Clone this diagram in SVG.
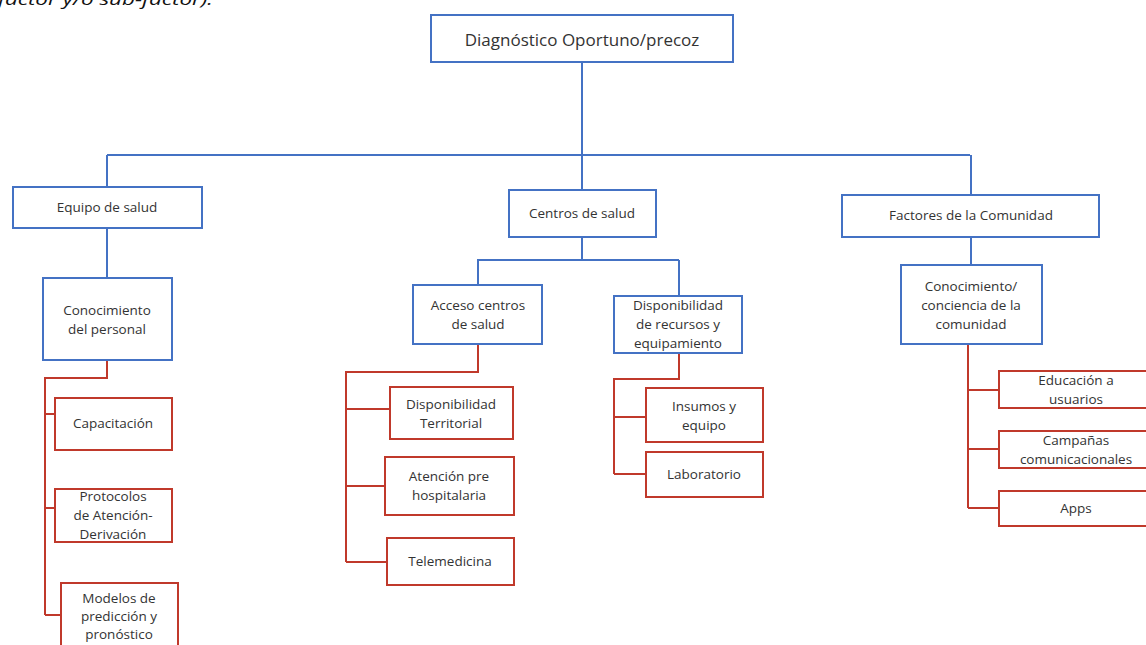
<svg xmlns="http://www.w3.org/2000/svg" width="1146" height="645" viewBox="0 0 1146 645">
<style>
.b{fill:#fff;stroke:#4472C4;stroke-width:2}
.r{fill:#fff;stroke:#C0392B;stroke-width:2}
.lb{fill:none;stroke:#4472C4;stroke-width:2}
.lr{fill:none;stroke:#C0392B;stroke-width:2}
text{font-family:"Open Sans","Liberation Sans",sans-serif;font-size:13.5px;fill:#333;text-anchor:middle}
.t{font-size:17px}
</style>
<rect width="1146" height="645" fill="#fff"/>
<text x="-2" y="5" style="font-style:italic;font-size:17px;text-anchor:start;fill:#111" textLength="215" lengthAdjust="spacingAndGlyphs">factor y/o sub-factor).</text>
<g id="connectors">
<path class="lb" d="M582 62V155M107 155H970M107 155V187M582 155V190M971 155V195"/>
<path class="lb" d="M107 228V278M582 237V260M477 260H679M478 260V285M679 260V296M971 237V265"/>
<path class="lr" d="M107 360V378H45V615M45 414H55M45 508H55M45 615H61"/>
<path class="lr" d="M478 344V372H346V562M346 409H390M346 486H385M346 562H387"/>
<path class="lr" d="M679 353V379H614V474M614 417H646M614 474H646"/>
<path class="lr" d="M968 344V508M968 390H999M968 449H999M968 508H999"/>
</g>
<g id="root"><rect class="b" x="431" y="15" width="302" height="47"/><text class="t" x="582" y="46">Diagnóstico Oportuno/precoz</text></g>
<g id="equipo"><rect class="b" x="13" y="187" width="189" height="41"/><text x="107" y="212">Equipo de salud</text></g>
<g id="centros"><rect class="b" x="509" y="190" width="147" height="47"/><text x="582" y="218">Centros de salud</text></g>
<g id="factores"><rect class="b" x="842" y="195" width="257" height="42"/><text x="971" y="220">Factores de la Comunidad</text></g>
<g id="conoc-personal"><rect class="b" x="43" y="278" width="129" height="82"/><text x="107" y="315">Conocimiento</text><text x="107" y="334">del personal</text></g>
<g id="acceso"><rect class="b" x="413" y="285" width="129" height="59"/><text x="478" y="310">Acceso centros</text><text x="478" y="329">de salud</text></g>
<g id="disp-recursos"><rect class="b" x="614" y="296" width="128" height="57"/><text x="678" y="310">Disponibilidad</text><text x="678" y="329">de recursos y</text><text x="678" y="348">equipamiento</text></g>
<g id="conoc-comunidad"><rect class="b" x="901" y="265" width="141" height="79"/><text x="971" y="291">Conocimiento/</text><text x="971" y="310">conciencia de la</text><text x="971" y="329">comunidad</text></g>
<g id="capacitacion"><rect class="r" x="55" y="398" width="117" height="52"/><text x="113" y="428">Capacitación</text></g>
<g id="protocolos"><rect class="r" x="55" y="489" width="117" height="53"/><text x="113" y="501">Protocolos</text><text x="113" y="520">de Atención-</text><text x="113" y="539">Derivación</text></g>
<g id="modelos"><rect class="r" x="61" y="583" width="117" height="70"/><text x="119" y="603">Modelos de</text><text x="119" y="621">predicción y</text><text x="119" y="639">pronóstico</text></g>
<g id="disp-territorial"><rect class="r" x="390" y="387" width="123" height="52"/><text x="451" y="409">Disponibilidad</text><text x="451" y="428">Territorial</text></g>
<g id="atencion"><rect class="r" x="385" y="457" width="129" height="58"/><text x="449" y="481">Atención pre</text><text x="449" y="500">hospitalaria</text></g>
<g id="telemedicina"><rect class="r" x="387" y="538" width="127" height="47"/><text x="450" y="566">Telemedicina</text></g>
<g id="insumos"><rect class="r" x="646" y="388" width="117" height="54"/><text x="704" y="411">Insumos y</text><text x="704" y="430">equipo</text></g>
<g id="laboratorio"><rect class="r" x="646" y="452" width="117" height="45"/><text x="704" y="479">Laboratorio</text></g>
<g id="educacion"><rect class="r" x="999" y="371" width="155" height="37"/><text x="1076" y="385">Educación a</text><text x="1076" y="404">usuarios</text></g>
<g id="campanas"><rect class="r" x="999" y="431" width="155" height="37"/><text x="1076" y="445">Campañas</text><text x="1076" y="464">comunicacionales</text></g>
<g id="apps"><rect class="r" x="999" y="491" width="155" height="35"/><text x="1076" y="513">Apps</text></g>
</svg>
